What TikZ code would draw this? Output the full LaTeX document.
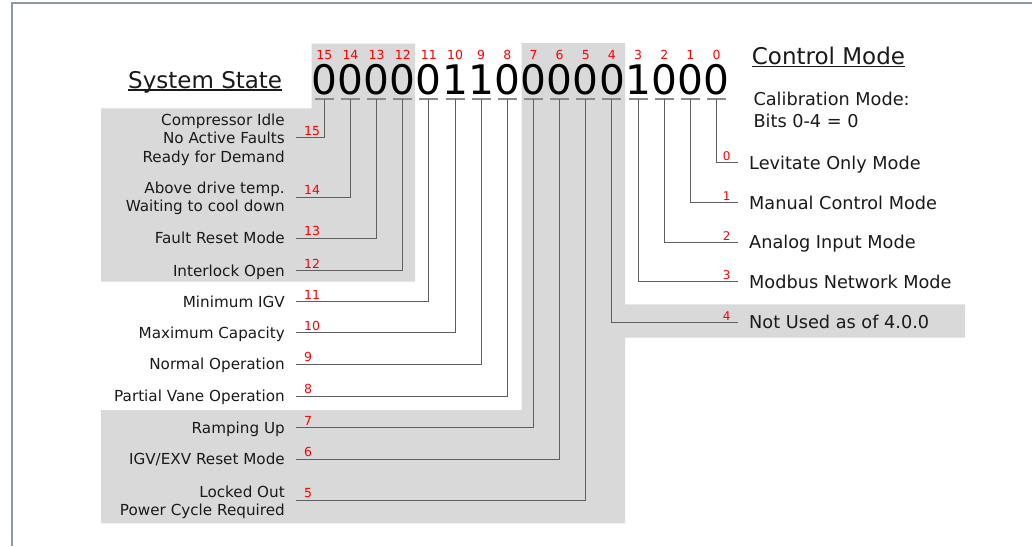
\documentclass[tikz,border=0pt]{standalone}
\usepackage{fontspec}
\setmainfont{DejaVu Sans}
\definecolor{bggray}{HTML}{D9D9D9}
\definecolor{connc}{HTML}{5F5F5F}
\definecolor{tickc}{HTML}{8C8C8C}
\definecolor{framec}{HTML}{8A99A6}
\definecolor{txt}{HTML}{1A1A1A}
\definecolor{bitred}{HTML}{FF0000}
\begin{document}
\begin{tikzpicture}[x=1pt,y=-1pt,
  lab/.style={font=\fontsize{15.2}{18.2}\selectfont, text=txt, inner sep=0pt, align=right, anchor=base east},
  rlab/.style={font=\fontsize{17.7}{21.4}\selectfont, text=txt, inner sep=0pt, align=left, anchor=base west},
  bitnum/.style={font=\fontsize{12.5}{14}\selectfont, text=bitred, inner sep=0pt, anchor=base},
  lnum/.style={font=\fontsize{12.5}{14}\selectfont, text=bitred, inner sep=0pt, anchor=base west},
  rnum/.style={font=\fontsize{12}{14}\selectfont, text=bitred, inner sep=0pt, anchor=base east},
  digit/.style={font=\fontsize{40.7}{48}\selectfont, text=black, inner sep=0pt, anchor=base},
  titletxt/.style={font=\fontsize{23}{28}\selectfont, text=txt, inner sep=0pt, anchor=base west},
  conn/.style={draw=connc, line width=1pt},
  tickl/.style={draw=tickc, line width=1.5pt}]

\useasboundingbox (0,0) rectangle (1032,546);
\fill[white] (0,0) rectangle (1032,546);
\draw[framec, line width=1.2pt] (12,546) -- (12,3) -- (1032,3);

% grey bands
\fill[bggray] (101,108.3) -- (311.7,108.3) -- (311.7,43.5) -- (415,43.5) -- (415,281.7) -- (101,281.7) -- cycle;
\fill[bggray] (521.7,43) -- (625,43) -- (625,304.3) -- (965,304.3) -- (965,337.7) -- (625,337.7) -- (625,523.3) -- (101,523.3) -- (101,410) -- (521.7,410) -- cycle;

% digits, bit numbers, ticks
\foreach \v [count=\k from 0] in {0,0,0,0,0,1,1,0,0,0,0,0,1,0,0,0} {
  \pgfmathtruncatemacro\bit{15-\k}
  \pgfmathsetmacro\xx{324.3+26.15*\k}
  \node[digit] (d\bit) at (\xx,94.3) {\v};
  \node[bitnum] (n\bit) at (\xx,59.3) {\bit};
  \coordinate (t\bit) at (\xx,99);
  \draw[tickl] (\xx-9.5,99) -- (\xx+9.5,99);
}

% titles
\node[titletxt] (ss) at (128,88) {System State};
\draw[txt, line width=1.3pt] ([yshift=-2pt]ss.base west) -- ([yshift=-2pt]ss.base east);
\node[titletxt] (cm) at (751.7,64.3) {Control Mode};
\draw[txt, line width=1.3pt] ([yshift=-2.4pt]cm.base west) -- ([yshift=-2.4pt]cm.base east);
\node[rlab] (cal) at (753.3,127.3) {Calibration Mode:\\Bits 0-4 = 0};

% left labels (base = last line)
\node[lab] (l15) at (285,162.1) {Compressor Idle\\No Active Faults\\Ready for Demand};
\node[lab] (l14) at (285,211.6) {Above drive temp.\\Waiting to cool down};
\node[lab] (l13) at (285,243.8) {Fault Reset Mode};
\node[lab] (l12) at (285,276.2) {Interlock Open};
\node[lab] (l11) at (285,307.2) {Minimum IGV};
\node[lab] (l10) at (285,338.2) {Maximum Capacity};
\node[lab] (l9) at (285,369.8) {Normal Operation};
\node[lab] (l8) at (285,401.5) {Partial Vane Operation};
\node[lab] (l7) at (285,433.2) {Ramping Up};
\node[lab] (l6) at (285,464.8) {IGV/EXV Reset Mode};
\node[lab] (l5) at (285,515.4) {Locked Out\\Power Cycle Required};

\foreach \bit/\yy in {15/137.7,14/197.3,13/238.3,12/270.7,11/301.7,10/332.7,9/364.3,8/396,7/427.7,6/459.3,5/500} {
  \coordinate (e\bit) at (296,\yy);
  \draw[conn] (t\bit) |- (e\bit);
  \node[lnum] (m\bit) at (304,\yy-2.7) {\bit};
}

% right labels
\node[rlab] (r0) at (749,169.2) {Levitate Only Mode};
\node[rlab] (r1) at (749,209.2) {Manual Control Mode};
\node[rlab] (r2) at (749,248.8) {Analog Input Mode};
\node[rlab] (r3) at (749,288.2) {Modbus Network Mode};
\node[rlab] (r4) at (749,328.8) {Not Used as of 4.0.0};

\foreach \bit/\yy in {0/162.7,1/202.7,2/242.3,3/281.7,4/322.3} {
  \coordinate (e\bit) at (738,\yy);
  \draw[conn] (t\bit) |- (e\bit);
  \node[rnum] (m\bit) at (730.7,\yy-2) {\bit};
}
\end{tikzpicture}
\end{document}
